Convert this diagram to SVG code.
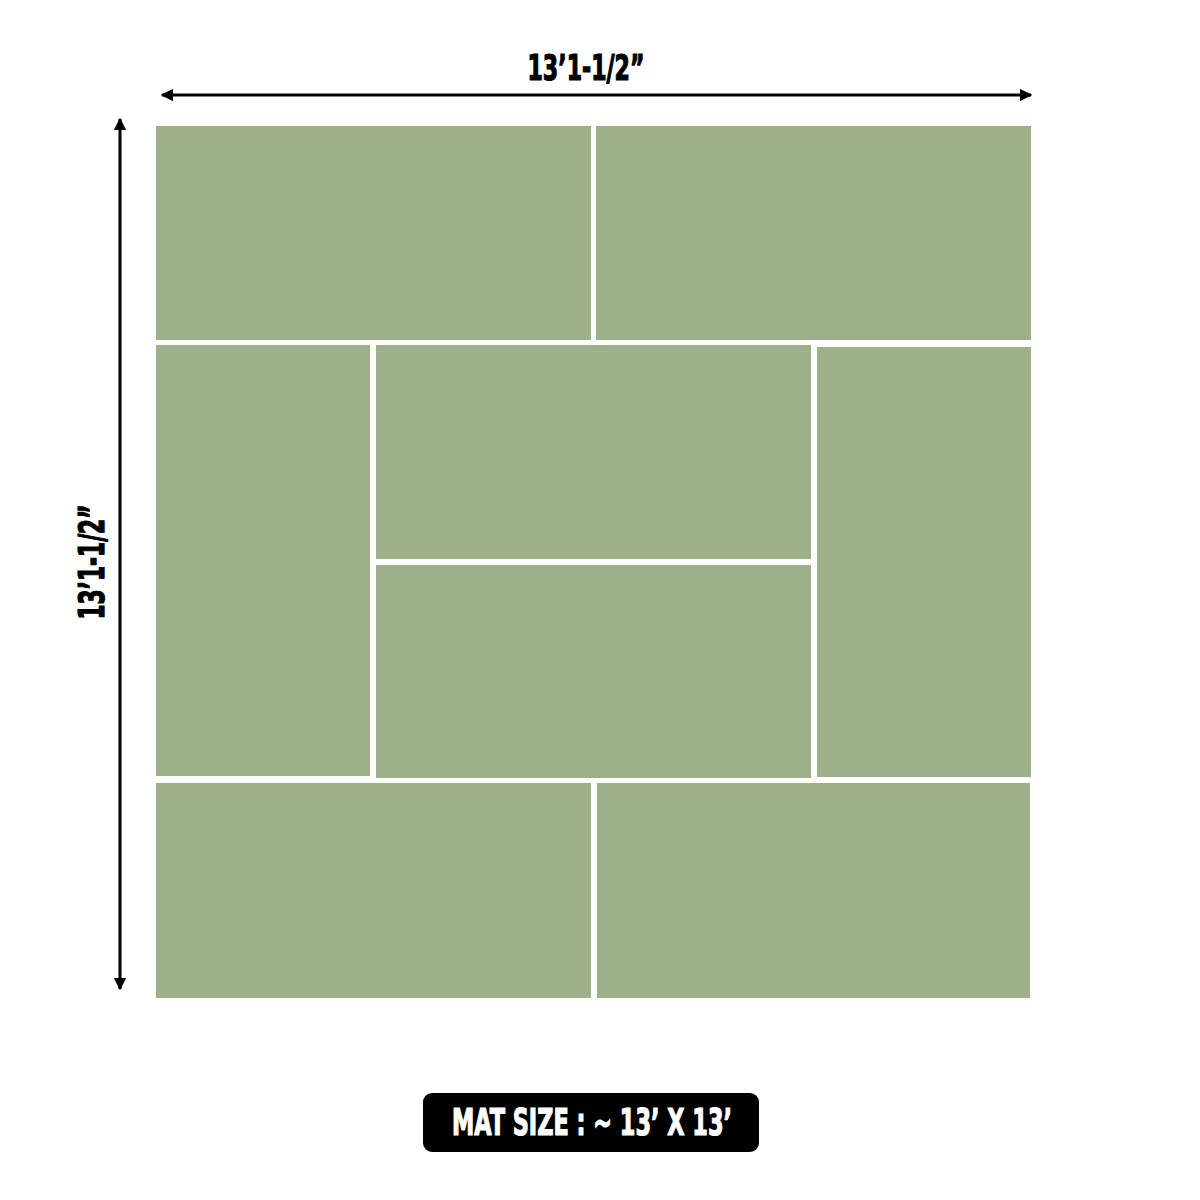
<svg xmlns="http://www.w3.org/2000/svg" width="1200" height="1200" viewBox="0 0 1200 1200">
  <style>
    .tile { fill: #9EB08A; }
    .dim { stroke: #000; stroke-width: 3; fill: none; }
    .lbl { font-family: "Liberation Sans Narrow", "DejaVu Sans Condensed", "Liberation Sans", sans-serif; font-weight: bold; fill: #000; stroke: #000; stroke-width: 1.2; }
    .badge-text { font-family: "Liberation Sans Narrow", "DejaVu Sans Condensed", "Liberation Sans", sans-serif; font-weight: bold; fill: #fff; stroke: #fff; stroke-width: 1.2; }
  </style>
  <defs>
    <marker id="arrow" viewBox="0 0 10 10" refX="9" refY="5" markerWidth="4.2" markerHeight="4.2" orient="auto-start-reverse" markerUnits="strokeWidth">
      <path d="M0,0 L10,5 L0,10 Z" fill="#000"/>
    </marker>
  </defs>
  <rect x="0" y="0" width="1200" height="1200" fill="#fff"/>

  <g id="tile-top-left"><rect class="tile" x="156" y="126" width="435" height="214"/></g>
  <g id="tile-top-right"><rect class="tile" x="596" y="126" width="435" height="214"/></g>
  <g id="tile-left"><rect class="tile" x="156" y="345" width="214" height="431"/></g>
  <g id="tile-center-top"><rect class="tile" x="376" y="345" width="435" height="214"/></g>
  <g id="tile-center-bottom"><rect class="tile" x="376" y="565" width="435" height="213"/></g>
  <g id="tile-right"><rect class="tile" x="817" y="347" width="214" height="430"/></g>
  <g id="tile-bottom-left"><rect class="tile" x="156" y="783" width="435" height="215"/></g>
  <g id="tile-bottom-right"><rect class="tile" x="597" y="783" width="433" height="215"/></g>

  <g id="connectors">
    <line class="dim" x1="162" y1="95" x2="1031" y2="95" marker-start="url(#arrow)" marker-end="url(#arrow)"/>
    <line class="dim" x1="120" y1="119" x2="120" y2="989" marker-start="url(#arrow)" marker-end="url(#arrow)"/>
  </g>

  <g id="label-width">
    <text class="lbl" x="586" y="80" font-size="35" text-anchor="middle" textLength="117" lengthAdjust="spacingAndGlyphs">13’1-1/2”</text>
  </g>
  <g id="label-height">
    <text class="lbl" font-size="35" text-anchor="middle" textLength="115" lengthAdjust="spacingAndGlyphs" transform="translate(104 562) rotate(-90)">13’1-1/2”</text>
  </g>
  <g id="badge">
    <rect x="423" y="1093" width="336" height="59" rx="9" fill="#000"/>
    <text class="badge-text" x="592" y="1135" font-size="37" text-anchor="middle" textLength="280" lengthAdjust="spacingAndGlyphs">MAT SIZE : ~ 13’ X 13’</text>
  </g>
</svg>
